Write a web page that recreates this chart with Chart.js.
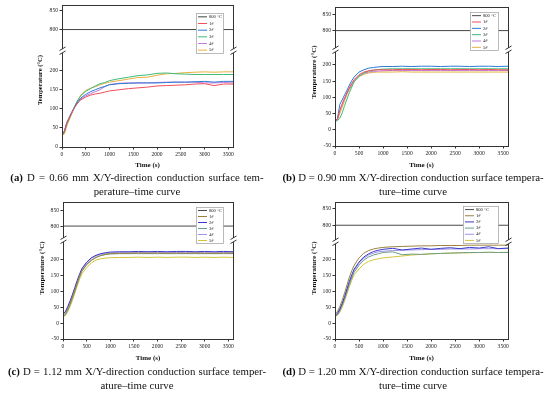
<!DOCTYPE html>
<html>
<head>
<meta charset="utf-8">
<script src="https://cdn.jsdelivr.net/npm/chart.js@4.4.1/dist/chart.umd.min.js"></script>
<style>
body { margin: 0; background: #fff; width: 550px; height: 393px; position: relative; overflow: hidden; font-family: 'Liberation Serif', serif; }
canvas { position: absolute; }
.cap { position: absolute; font-size: 10.8px; line-height: 14px; text-align: center; color: #111; white-space: nowrap; }
</style>
</head>
<body>
<canvas id="chartA" width="275" height="170" style="left:0;top:0"></canvas>
<canvas id="chartB" width="275" height="170" style="left:275px;top:0"></canvas>
<canvas id="chartC" width="275" height="170" style="left:0;top:195px"></canvas>
<canvas id="chartD" width="275" height="170" style="left:275px;top:195px"></canvas>
<div class="cap" style="left:0;width:274px;top:170px"><span style="word-spacing:1.4px"><b>(a)</b> D = 0.66 mm X/Y-direction conduction surface tem-</span><br>perature–time curve</div>
<div class="cap" style="left:275px;width:276px;top:170px"><b>(b)</b> D = 0.90 mm X/Y-direction conduction surface tempera-<br>ture–time curve</div>
<div class="cap" style="left:0;width:274px;top:364px"><span style="word-spacing:0.4px"><b>(c)</b> D = 1.12 mm X/Y-direction conduction surface temper-</span><br>ature–time curve</div>
<div class="cap" style="left:275px;width:276px;top:364px"><b>(d)</b> D = 1.20 mm X/Y-direction conduction surface tempera-<br>ture–time curve</div>
<script>
// Time axis (s), shared by every curve
const times = [0, 50, 100, 150, 200, 250, 300, 350, 400, 500, 600, 700, 800, 900, 1000, 1200, 1400, 1600, 1800, 2000, 2200, 2400, 2600, 2800, 3000, 3200, 3400, 3600];

// 800 °C reference line
const refTimes = [0, 3600];
const refTemp = [800, 800];

const seriesLabels = ['800 °C', '1#', '2#', '3#', '4#', '5#'];
const xTicks = [0, 500, 1000, 1500, 2000, 2500, 3000, 3500];
const yTopTicks = [800, 850];
const yBotTicksA = [0, 50, 100, 150, 200];
const yBotTicks = [-50, 0, 50, 100, 150, 200];

// (a) D = 0.66 mm
const a1 = [32, 40, 62, 75, 88, 100, 110, 118, 124, 131, 136, 139, 141, 144, 147, 150, 153, 155, 157, 160, 161, 162, 163, 165, 166, 161, 165, 165];
const a2 = [32, 42, 64, 77, 90, 102, 113, 122, 129, 138, 145, 150, 155, 159, 163, 166, 167, 168, 168, 168, 169, 170, 170, 171, 172, 170, 172, 172];
const a3 = [30, 38, 60, 74, 88, 101, 115, 126, 135, 146, 153, 160, 166, 169, 174, 179, 183, 187, 189, 193, 194, 192, 191, 190, 190, 190, 190, 190];
const a4 = [33, 42, 62, 76, 89, 101, 111, 120, 126, 134, 140, 145, 150, 158, 164, 167, 168, 168, 168, 169, 170, 170, 170, 170, 168, 168, 169, 168];
const a5 = [30, 34, 55, 70, 85, 100, 115, 127, 137, 148, 154, 158, 163, 167, 170, 174, 178, 182, 183, 188, 192, 193, 195, 196, 197, 196, 197, 197];

// (b) D = 0.90 mm
const b1 = [28, 32, 60, 80, 98, 115, 130, 143, 155, 170, 178, 182, 184, 185, 185, 185, 186, 186, 185, 186, 186, 185, 186, 186, 185, 186, 185, 185];
const b2 = [28, 33, 78, 92, 108, 122, 138, 152, 163, 178, 185, 190, 192, 194, 195, 195, 196, 195, 196, 196, 195, 196, 196, 195, 196, 196, 195, 196];
const b3 = [26, 28, 36, 52, 75, 95, 115, 132, 148, 165, 175, 181, 184, 186, 187, 188, 188, 188, 188, 188, 188, 188, 188, 188, 188, 188, 188, 188];
const b4 = [28, 33, 60, 78, 96, 113, 128, 142, 153, 166, 174, 178, 180, 181, 182, 183, 183, 183, 183, 183, 183, 183, 183, 183, 183, 183, 183, 183];
const b5 = [27, 31, 50, 70, 90, 108, 124, 138, 150, 164, 171, 175, 177, 178, 178, 178, 179, 178, 178, 178, 178, 178, 178, 178, 178, 178, 178, 178];

// (c) D = 1.12 mm
const c1 = [25, 30, 45, 62, 82, 104, 126, 148, 165, 185, 198, 207, 213, 217, 219, 220, 220, 221, 220, 221, 220, 221, 220, 221, 220, 220, 221, 220];
const c2 = [30, 36, 52, 70, 90, 112, 134, 154, 172, 192, 206, 214, 219, 222, 224, 225, 225, 226, 225, 226, 225, 226, 226, 225, 226, 225, 226, 225];
const c3 = [22, 26, 40, 58, 78, 100, 123, 145, 163, 184, 198, 207, 213, 216, 218, 219, 219, 219, 219, 219, 219, 219, 219, 219, 219, 219, 219, 219];
const c4 = [28, 34, 50, 68, 88, 110, 132, 152, 170, 190, 204, 212, 217, 220, 221, 222, 222, 222, 222, 222, 222, 222, 222, 222, 222, 222, 222, 222];
const c5 = [20, 24, 36, 52, 72, 94, 117, 138, 155, 175, 190, 199, 203, 205, 206, 207, 207, 208, 207, 208, 207, 208, 208, 207, 208, 207, 208, 207];

// (d) D = 1.20 mm
const d1 = [30, 36, 52, 72, 95, 120, 145, 165, 182, 205, 220, 228, 233, 236, 238, 240, 241, 242, 243, 243, 244, 244, 244, 245, 245, 245, 245, 245];
const d2 = [25, 30, 44, 62, 84, 108, 132, 152, 170, 192, 208, 218, 225, 229, 232, 235, 230, 233, 236, 232, 235, 237, 234, 238, 236, 240, 234, 236];
const d3 = [22, 26, 38, 55, 76, 98, 122, 142, 160, 182, 198, 208, 214, 218, 222, 224, 215, 217, 216, 218, 219, 220, 221, 222, 222, 223, 222, 222];
const d4 = [24, 28, 42, 60, 80, 104, 128, 148, 166, 188, 204, 214, 220, 224, 226, 228, 229, 230, 231, 232, 232, 233, 233, 233, 234, 234, 234, 234];
const d5 = [20, 24, 34, 50, 70, 92, 115, 135, 152, 170, 185, 194, 199, 202, 205, 208, 211, 214, 216, 218, 219, 220, 221, 221, 222, 222, 222, 223];

const colorsAB = ['#454545', '#F0505A', '#2A7AD5', '#3DBB7A', '#C07AD8', '#E8B040'];
const colorsCD = ['#4a4a4a', '#9C8040', '#3A3AC8', '#6E9E86', '#A090E8', '#D4C43A'];

const serif = 'Liberation Serif';

function toPoints(xs, ys) {
    return xs.map((x, i) => ({ x: x, y: ys[i] }));
}

// draws frame, axis breaks, legend box and the y title
const decor = {
    id: 'decor',
    afterDraw(chart, args, o) {
        const ctx = chart.ctx, a = chart.chartArea;
        const L = Math.round(a.left) + 0.5, R = Math.round(a.right) + 0.5;
        const T = Math.round(a.top) + 0.5, B = Math.round(a.bottom) + 0.5;
        const cut = Math.round(chart.scales.yBot.top);
        ctx.save();
        ctx.strokeStyle = '#333';
        ctx.lineWidth = 1;
        ctx.strokeRect(L, T, R - L, B - T);
        [L, R].forEach(x => {
            ctx.fillStyle = '#fff';
            ctx.fillRect(x - 2, cut - 2, 4, 4);
            ctx.beginPath();
            ctx.moveTo(x - 3, cut - 0.5); ctx.lineTo(x + 3, cut - 4);
            ctx.moveTo(x - 3, cut + 3.5); ctx.lineTo(x + 3, cut);
            ctx.stroke();
        });

        // legend
        const lg = o.legend;
        ctx.fillStyle = '#fff';
        ctx.fillRect(lg.x, lg.y, lg.w, lg.h);
        ctx.strokeStyle = '#aaa';
        ctx.lineWidth = 0.8;
        ctx.strokeRect(lg.x + 0.5, lg.y + 0.5, lg.w, lg.h);
        const rowH = lg.h / seriesLabels.length;
        ctx.font = '4.6px ' + serif;
        ctx.textBaseline = 'middle';
        seriesLabels.forEach((lab, i) => {
            const y = lg.y + rowH * (i + 0.5) + 0.5;
            ctx.strokeStyle = o.colors[i];
            ctx.lineWidth = 1;
            ctx.beginPath();
            ctx.moveTo(lg.x + 2, y); ctx.lineTo(lg.x + 11, y);
            ctx.stroke();
            ctx.fillStyle = '#222';
            ctx.fillText(lab, lg.x + 13, y);
        });

        // y axis title
        ctx.translate(o.titleX, o.titleY);
        ctx.rotate(-Math.PI / 2);
        ctx.font = 'bold ' + o.titleSize + 'px ' + serif;
        ctx.textAlign = 'center';
        ctx.fillStyle = '#111';
        ctx.fillText('Temperature (°C)', 0, 0);
        ctx.restore();
    }
};

function makePanel(id, p) {
    const W = 275, H = 170;
    const datasets = [{
        data: toPoints(refTimes, refTemp),
        borderColor: p.colors[0],
        yAxisID: 'yTop'
    }];
    p.series.forEach((s, i) => {
        datasets.push({
            data: toPoints(times, s),
            borderColor: p.colors[i + 1],
            yAxisID: 'yBot'
        });
    });
    const tickFont = { family: serif, size: 5.6 };
    const yCommon = (ticks) => ({
        type: 'linear',
        position: 'left',
        stack: 'temp',
        border: { display: false },
        grid: { drawOnChartArea: false, tickLength: 2.5, color: '#333', tickColor: '#333' },
        ticks: { font: tickFont, color: '#222', padding: 1.5, callback: v => String(v) },
        afterBuildTicks: s => { s.ticks = ticks.map(v => ({ value: v })); },
        afterFit: s => { s.width = p.area.left; }
    });
    new Chart(document.getElementById(id), {
        type: 'line',
        data: { datasets: datasets },
        options: {
            responsive: false,
            animation: false,
            events: [],
            elements: { point: { radius: 0 }, line: { borderWidth: 1, tension: 0 } },
            layout: { padding: { left: 0, top: p.area.top, right: W - p.area.right, bottom: 0 } },
            plugins: {
                legend: { display: false },
                tooltip: { enabled: false },
                decor: { legend: p.legend, colors: p.colors, titleX: p.titleX, titleY: p.titleY, titleSize: p.titleSize }
            },
            scales: {
                x: {
                    type: 'linear',
                    min: 0, max: 3600,
                    border: { display: false },
                    grid: { drawOnChartArea: false, tickLength: 2.5, color: '#333' },
                    ticks: { font: tickFont, color: '#222', padding: 1.5, maxRotation: 0, callback: v => String(v) },
                    afterBuildTicks: s => { s.ticks = xTicks.map(v => ({ value: v })); },
                    afterFit: s => { s.height = H - p.area.bottom; },
                    title: { display: true, text: 'Time (s)', font: { family: serif, size: 7, weight: 'bold' }, color: '#111', padding: { top: 0, bottom: p.xTitlePad } }
                },
                // stacked axes are laid out bottom-up: lower segment first
                yBot: Object.assign(yCommon(p.botTicks), { min: p.botRange[0], max: p.botRange[1], stackWeight: p.weights[1] }),
                yTop: Object.assign(yCommon(yTopTicks), { min: p.topRange[0], max: p.topRange[1], stackWeight: p.weights[0] })
            }
        },
        plugins: [decor]
    });
}

makePanel('chartA', {
    series: [a1, a2, a3, a4, a5], colors: colorsAB,
    area: { left: 62, right: 233, top: 3, bottom: 147 },
    topRange: [742, 866], botRange: [0, 251], botTicks: yBotTicksA, weights: [47, 97],
    legend: { x: 196, y: 13, w: 27, h: 40 }, titleX: 40, titleY: 80, titleSize: 6.6, xTitlePad: 1
});
makePanel('chartB', {
    series: [b1, b2, b3, b4, b5], colors: colorsAB,
    area: { left: 60, right: 233, top: 7, bottom: 146 },
    topRange: [740, 873], botRange: [-50, 246], botTicks: yBotTicks, weights: [43, 96],
    legend: { x: 195, y: 12, w: 28, h: 38 }, titleX: 39, titleY: 72, titleSize: 7, xTitlePad: 1
});
makePanel('chartC', {
    series: [c1, c2, c3, c4, c5], colors: colorsCD,
    area: { left: 63, right: 233, top: 7, bottom: 144 },
    topRange: [756, 876], botRange: [-50, 262], botTicks: yBotTicks, weights: [38, 99],
    legend: { x: 196, y: 12, w: 27, h: 36 }, titleX: 42, titleY: 73, titleSize: 7, xTitlePad: 3
});
makePanel('chartD', {
    series: [d1, d2, d3, d4, d5], colors: colorsCD,
    area: { left: 60, right: 233, top: 7, bottom: 144 },
    topRange: [751, 868], botRange: [-50, 255], botTicks: yBotTicks, weights: [40, 97],
    legend: { x: 188, y: 11, w: 35, h: 37 }, titleX: 39, titleY: 73, titleSize: 7, xTitlePad: 3
});
</script>
</body>
</html>
